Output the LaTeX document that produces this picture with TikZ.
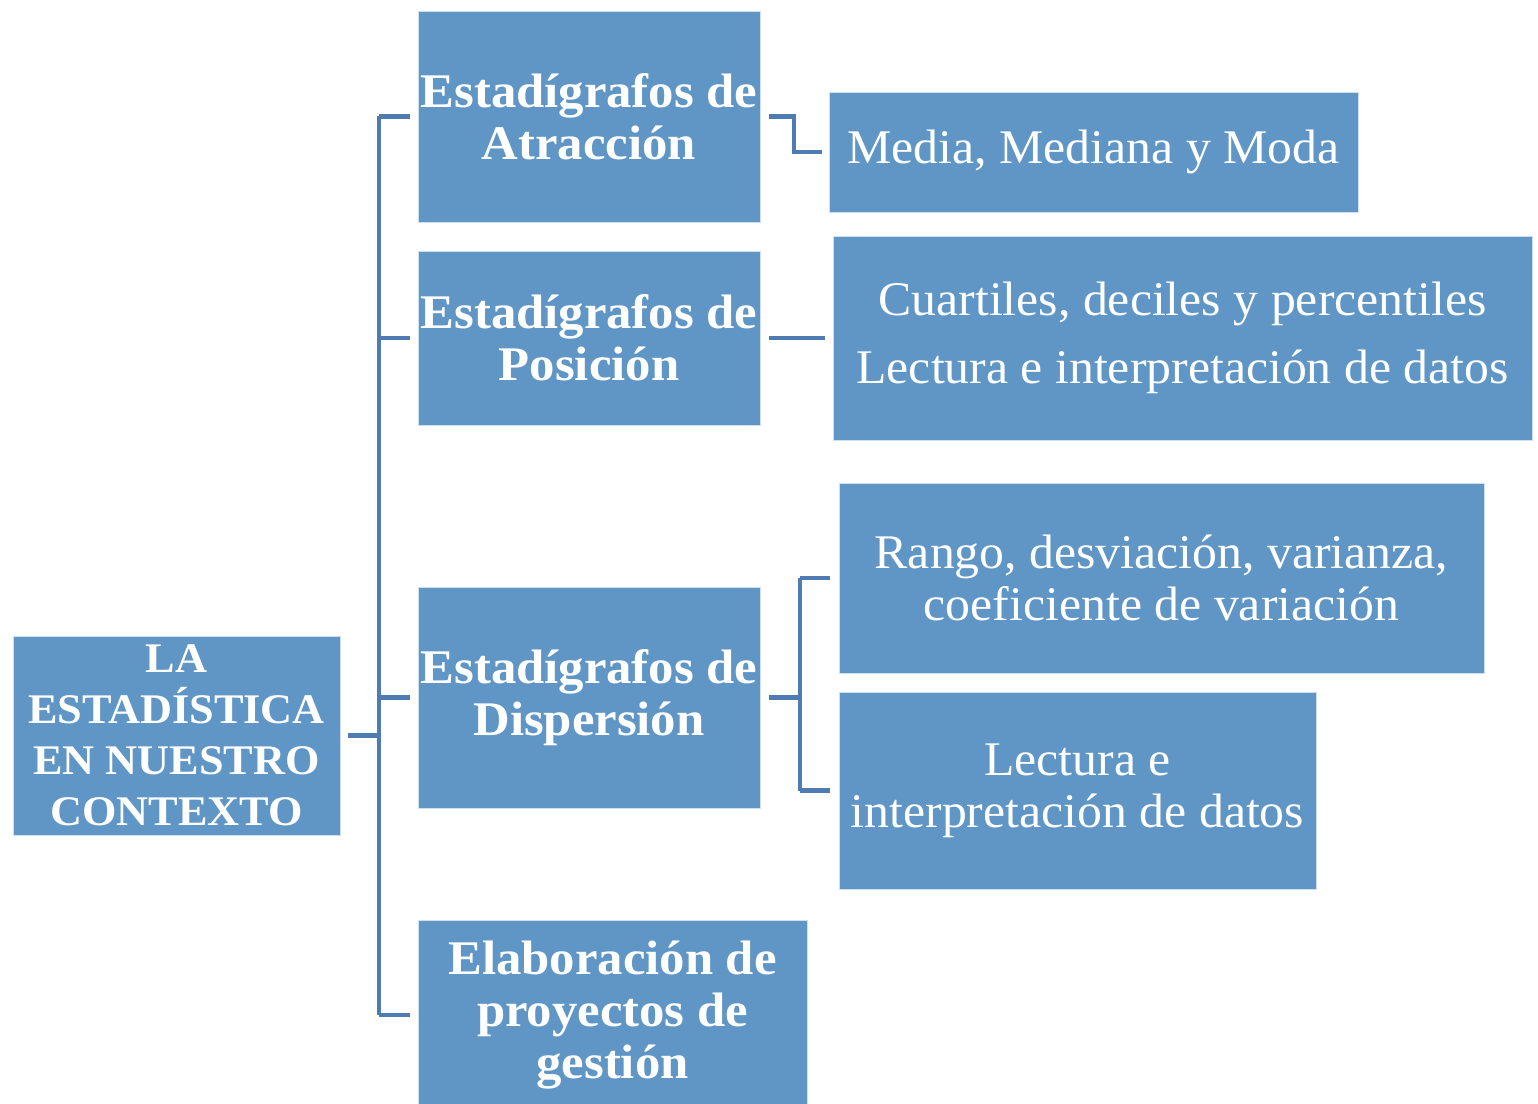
\documentclass[tikz,border=0pt]{standalone}
\usepackage{fontspec}
\setmainfont{Liberation Serif}[FakeStretch=1.03, BoldFeatures={FakeStretch=1.05}]
\usetikzlibrary{calc}
\definecolor{boxblue}{RGB}{96,150,197}
\definecolor{linkblue}{RGB}{78,124,178}
\tikzset{
  box/.style={fill=boxblue, draw=white!70!boxblue, line width=0.4pt, inner sep=0pt,
    align=center, text=white, font=\fontsize{27.5}{29.6}\selectfont},
  boxbold/.style={box, font=\fontsize{27.5}{29.6}\selectfont\bfseries},
  link/.style={draw=linkblue, line width=2.3pt}
}
\def\gapL{0.18cm}
\def\gapR{0.16cm}

\begin{document}
\begin{tikzpicture}[x=0.02cm, y=-0.02cm]
  \useasboundingbox (0,0) rectangle (1538,1104);

  % root
  \node[boxbold, minimum width=6.54cm, minimum height=3.98cm,
        font=\fontsize{24}{29}\selectfont\bfseries] (root) at (176.5,735.5)
        {LA\\ESTADÍSTICA\\EN NUESTRO\\CONTEXTO};

  % second level
  \node[boxbold, minimum width=6.84cm, minimum height=4.22cm] (atr) at (589,116.5)
        {Estadígrafos de\\Atracción};
  \node[boxbold, minimum width=6.84cm, minimum height=3.48cm] (pos) at (589,338)
        {Estadígrafos de\\Posición};
  \node[boxbold, minimum width=6.84cm, minimum height=4.42cm] (dis) at (589,697.5)
        {Estadígrafos de\\Dispersión};
  \node[boxbold, minimum width=7.78cm, minimum height=3.8cm] (ela) at (612.5,1015)
        {Elaboración de\\proyectos de\\gestión};

  % third level
  \node[box, minimum width=10.58cm, minimum height=2.4cm] (med) at (1093.5,152)
        {Media, Mediana y Moda};
  \node[box, minimum width=13.98cm, minimum height=4.08cm,
        font=\fontsize{27.5}{38.7}\selectfont] (cua) at (1182.5,338)
        {Cuartiles, deciles y percentiles\\Lectura e interpretación de datos};
  \node[box, minimum width=12.9cm, minimum height=3.8cm] (ran) at (1161.5,578)
        {Rango, desviación, varianza,\\coeficiente de variación};
  \node[box, minimum width=9.54cm, minimum height=3.94cm] (lec) at (1077.5,790.5)
        {Lectura e\\interpretación de datos};

  % trunk
  \coordinate (trunk) at (379,0);
  \draw[link, shorten <=\gapR] (root.east) -- (trunk |- root.east);
  \draw[link] (trunk |- atr.west) -- (trunk |- ela.west);
  \foreach \n in {atr,pos,dis,ela}
    \draw[link, shorten >=\gapR] (trunk |- \n.west) -- (\n.west);

  % branches
  \draw[link, shorten <=\gapL, shorten >=0.14cm] (atr.east) -- ++(34,0) |- (med.west);
  \draw[link, shorten <=\gapL, shorten >=\gapR] (pos.east) -- (pos.east -| cua.west);
  \draw[link, shorten <=\gapL] (dis.east) -- ++(40,0) coordinate (dj);
  \draw[link] (dj |- ran.west) -- (dj |- lec.west);
  \foreach \n in {ran,lec}
    \draw[link, shorten >=\gapL] (dj |- \n.west) -- (\n.west);
\end{tikzpicture}
\end{document}
